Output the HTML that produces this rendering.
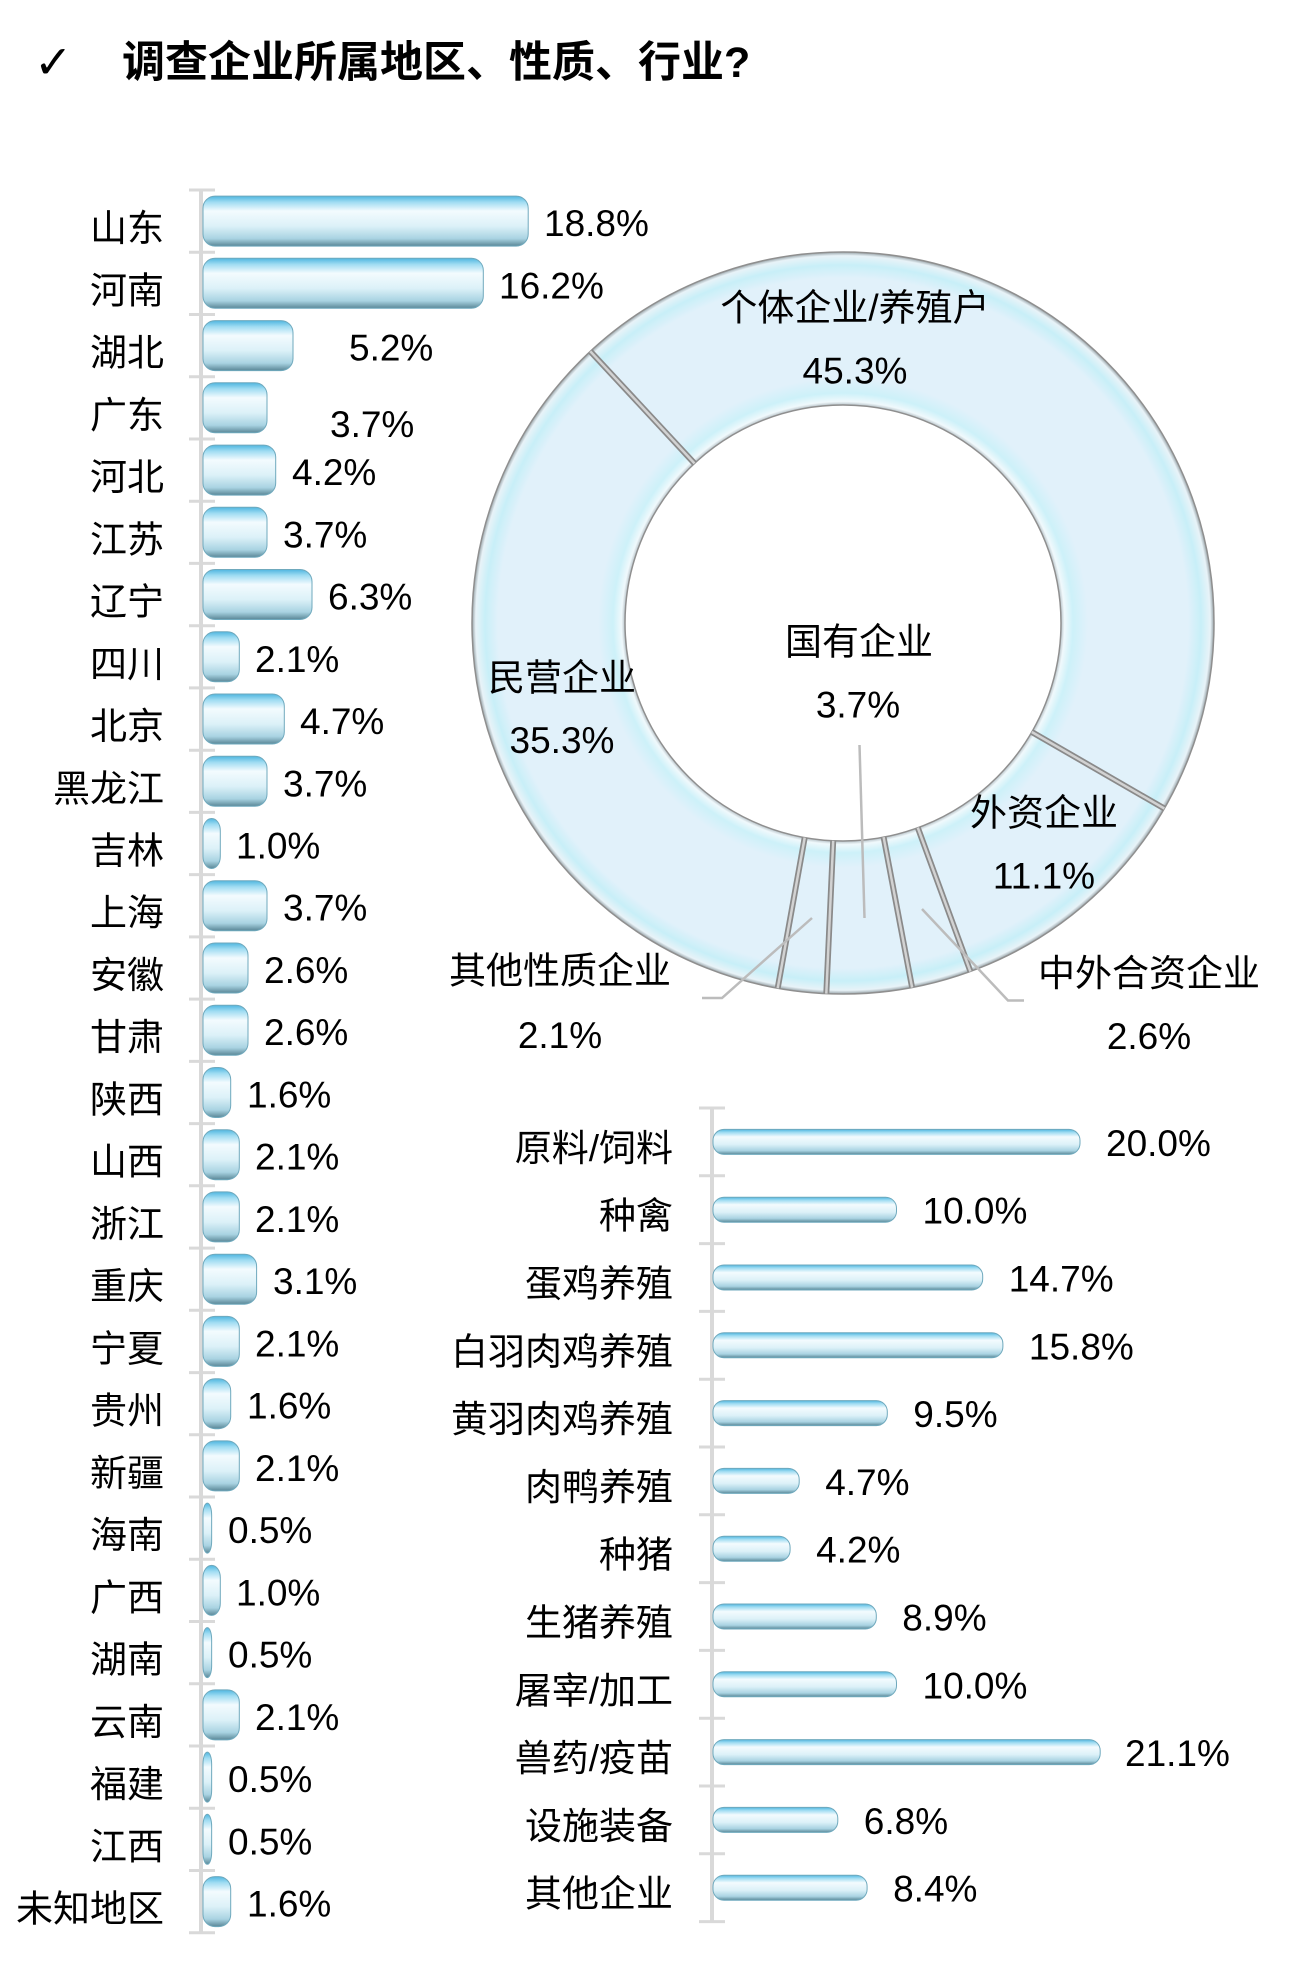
<!DOCTYPE html>
<html><head><meta charset="utf-8"><style>
html,body{margin:0;padding:0;background:#fff;}
svg{display:block;}
text{font-family:"Liberation Sans","Noto Sans CJK SC",sans-serif;fill:#000;}
</style></head><body>
<svg xmlns="http://www.w3.org/2000/svg" width="1304" height="1975" viewBox="0 0 1304 1975">
<defs>
<linearGradient id="bg" x1="0" y1="0" x2="0" y2="1">
<stop offset="0" stop-color="#4fb6e0"/>
<stop offset="0.12" stop-color="#9fdcf2"/>
<stop offset="0.3" stop-color="#f3fbfe"/>
<stop offset="0.6" stop-color="#dcf1f8"/>
<stop offset="0.85" stop-color="#a9d3e2"/>
<stop offset="1" stop-color="#5a8797"/>
</linearGradient>
<radialGradient id="ring" gradientUnits="userSpaceOnUse" cx="843" cy="623" r="371">
<stop offset="0.587" stop-color="#b3bec4"/>
<stop offset="0.597" stop-color="#f0f9fc"/>
<stop offset="0.62" stop-color="#cdf1f9"/>
<stop offset="0.66" stop-color="#e1f1fa"/>
<stop offset="0.93" stop-color="#e1f1fa"/>
<stop offset="0.965" stop-color="#c8eff8"/>
<stop offset="0.99" stop-color="#e8f3f8"/>
<stop offset="1" stop-color="#98a3a8"/>
</radialGradient>
</defs>

<!-- Title -->
<text x="34" y="78" font-size="46" style="font-family:'DejaVu Sans',sans-serif">✓</text>
<text x="122" y="77" font-size="43" font-weight="bold">调查企业所属地区、性质、行业?</text>

<!-- LEFT BAR CHART -->
<g stroke="#d9d9d9" stroke-width="3">
<line x1="201" y1="190" x2="201" y2="1933" stroke-width="4"/>
<line x1="189" y1="190" x2="215" y2="190"/>
<line x1="189" y1="252.2" x2="215" y2="252.2"/>
<line x1="189" y1="314.5" x2="215" y2="314.5"/>
<line x1="189" y1="376.7" x2="215" y2="376.7"/>
<line x1="189" y1="439" x2="215" y2="439"/>
<line x1="189" y1="501.2" x2="215" y2="501.2"/>
<line x1="189" y1="563.4" x2="215" y2="563.4"/>
<line x1="189" y1="625.7" x2="215" y2="625.7"/>
<line x1="189" y1="687.9" x2="215" y2="687.9"/>
<line x1="189" y1="750.2" x2="215" y2="750.2"/>
<line x1="189" y1="812.4" x2="215" y2="812.4"/>
<line x1="189" y1="874.6" x2="215" y2="874.6"/>
<line x1="189" y1="936.9" x2="215" y2="936.9"/>
<line x1="189" y1="999.1" x2="215" y2="999.1"/>
<line x1="189" y1="1061.4" x2="215" y2="1061.4"/>
<line x1="189" y1="1123.6" x2="215" y2="1123.6"/>
<line x1="189" y1="1185.8" x2="215" y2="1185.8"/>
<line x1="189" y1="1248.1" x2="215" y2="1248.1"/>
<line x1="189" y1="1310.3" x2="215" y2="1310.3"/>
<line x1="189" y1="1372.6" x2="215" y2="1372.6"/>
<line x1="189" y1="1434.8" x2="215" y2="1434.8"/>
<line x1="189" y1="1497" x2="215" y2="1497"/>
<line x1="189" y1="1559.3" x2="215" y2="1559.3"/>
<line x1="189" y1="1621.5" x2="215" y2="1621.5"/>
<line x1="189" y1="1683.8" x2="215" y2="1683.8"/>
<line x1="189" y1="1746" x2="215" y2="1746"/>
<line x1="189" y1="1808.2" x2="215" y2="1808.2"/>
<line x1="189" y1="1870.5" x2="215" y2="1870.5"/>
<line x1="189" y1="1932.7" x2="215" y2="1932.7"/>
</g>

<g fill="url(#bg)" stroke="#6fa9bd" stroke-width="1">
<rect x="203" y="196.1" width="325.2" height="50" rx="12" ry="12"/>
<rect x="203" y="258.3" width="280.3" height="50" rx="12" ry="12"/>
<rect x="203" y="320.6" width="90" height="50" rx="12" ry="12"/>
<rect x="203" y="382.8" width="64" height="50" rx="12" ry="12"/>
<rect x="203" y="445.1" width="72.7" height="50" rx="12" ry="12"/>
<rect x="203" y="507.3" width="64" height="50" rx="12" ry="12"/>
<rect x="203" y="569.5" width="109" height="50" rx="12" ry="12"/>
<rect x="203" y="631.8" width="36.3" height="50" rx="12" ry="12"/>
<rect x="203" y="694" width="81.3" height="50" rx="12" ry="12"/>
<rect x="203" y="756.3" width="64" height="50" rx="12" ry="12"/>
<rect x="203" y="818.5" width="17.3" height="50" rx="8.6" ry="12"/>
<rect x="203" y="880.7" width="64" height="50" rx="12" ry="12"/>
<rect x="203" y="943" width="45" height="50" rx="12" ry="12"/>
<rect x="203" y="1005.2" width="45" height="50" rx="12" ry="12"/>
<rect x="203" y="1067.5" width="27.7" height="50" rx="12" ry="12"/>
<rect x="203" y="1129.7" width="36.3" height="50" rx="12" ry="12"/>
<rect x="203" y="1191.9" width="36.3" height="50" rx="12" ry="12"/>
<rect x="203" y="1254.2" width="53.6" height="50" rx="12" ry="12"/>
<rect x="203" y="1316.4" width="36.3" height="50" rx="12" ry="12"/>
<rect x="203" y="1378.7" width="27.7" height="50" rx="12" ry="12"/>
<rect x="203" y="1440.9" width="36.3" height="50" rx="12" ry="12"/>
<rect x="203" y="1503.1" width="8.65" height="50" rx="4.3" ry="12"/>
<rect x="203" y="1565.4" width="17.3" height="50" rx="8.6" ry="12"/>
<rect x="203" y="1627.6" width="8.65" height="50" rx="4.3" ry="12"/>
<rect x="203" y="1689.9" width="36.3" height="50" rx="12" ry="12"/>
<rect x="203" y="1752.1" width="8.65" height="50" rx="4.3" ry="12"/>
<rect x="203" y="1814.3" width="8.65" height="50" rx="4.3" ry="12"/>
<rect x="203" y="1876.6" width="27.7" height="50" rx="12" ry="12"/>
</g>

<g font-size="37" text-anchor="end">
<text x="164" y="241.1">山东</text>
<text x="164" y="303.3">河南</text>
<text x="164" y="365.6">湖北</text>
<text x="164" y="427.8">广东</text>
<text x="164" y="490.1">河北</text>
<text x="164" y="552.3">江苏</text>
<text x="164" y="614.5">辽宁</text>
<text x="164" y="676.8">四川</text>
<text x="164" y="739">北京</text>
<text x="164" y="801.3">黑龙江</text>
<text x="164" y="863.5">吉林</text>
<text x="164" y="925.7">上海</text>
<text x="164" y="988">安徽</text>
<text x="164" y="1050.2">甘肃</text>
<text x="164" y="1112.5">陕西</text>
<text x="164" y="1174.7">山西</text>
<text x="164" y="1236.9">浙江</text>
<text x="164" y="1299.2">重庆</text>
<text x="164" y="1361.4">宁夏</text>
<text x="164" y="1423.7">贵州</text>
<text x="164" y="1485.9">新疆</text>
<text x="164" y="1548.1">海南</text>
<text x="164" y="1610.4">广西</text>
<text x="164" y="1672.6">湖南</text>
<text x="164" y="1734.9">云南</text>
<text x="164" y="1797.1">福建</text>
<text x="164" y="1859.3">江西</text>
<text x="164" y="1921.6">未知地区</text>
</g>

<g font-size="37">
<text x="544" y="236.1">18.8%</text>
<text x="499" y="298.3">16.2%</text>
<text x="349" y="360.6">5.2%</text>
<text x="330" y="436.8">3.7%</text>
<text x="292" y="485.1">4.2%</text>
<text x="283" y="547.3">3.7%</text>
<text x="328" y="609.5">6.3%</text>
<text x="255" y="671.8">2.1%</text>
<text x="300" y="734">4.7%</text>
<text x="283" y="796.3">3.7%</text>
<text x="236" y="858.5">1.0%</text>
<text x="283" y="920.7">3.7%</text>
<text x="264" y="983">2.6%</text>
<text x="264" y="1045.2">2.6%</text>
<text x="247" y="1107.5">1.6%</text>
<text x="255" y="1169.7">2.1%</text>
<text x="255" y="1231.9">2.1%</text>
<text x="273" y="1294.2">3.1%</text>
<text x="255" y="1356.4">2.1%</text>
<text x="247" y="1418.7">1.6%</text>
<text x="255" y="1480.9">2.1%</text>
<text x="228" y="1543.1">0.5%</text>
<text x="236" y="1605.4">1.0%</text>
<text x="228" y="1667.6">0.5%</text>
<text x="255" y="1729.9">2.1%</text>
<text x="228" y="1792.1">0.5%</text>
<text x="228" y="1854.3">0.5%</text>
<text x="247" y="1916.6">1.6%</text>
</g>

<!-- DONUT -->
<path d="M843,252 A371,371 0 1,1 843,994 A371,371 0 1,1 843,252 Z M843,405 A218,218 0 1,0 843,841 A218,218 0 1,0 843,405 Z" fill="url(#ring)" fill-rule="evenodd" stroke="#8f8f8f" stroke-width="1.5"/>
<g stroke="#8a8a8a" stroke-width="6">
<line x1="1164.3" y1="808.5" x2="1031.8" y2="732"/>
<line x1="970.4" y1="971.4" x2="917.8" y2="827.7"/>
<line x1="912.1" y1="987.5" x2="883.6" y2="837.2"/>
<line x1="826.3" y1="993.6" x2="833.2" y2="840.8"/>
<line x1="777.7" y1="988.2" x2="804.7" y2="837.6"/>
<line x1="590.3" y1="351.3" x2="694.5" y2="463.4"/>
</g>
<g stroke="#d2d2d2" stroke-width="2.5">
<line x1="1164.3" y1="808.5" x2="1031.8" y2="732"/>
<line x1="970.4" y1="971.4" x2="917.8" y2="827.7"/>
<line x1="912.1" y1="987.5" x2="883.6" y2="837.2"/>
<line x1="826.3" y1="993.6" x2="833.2" y2="840.8"/>
<line x1="777.7" y1="988.2" x2="804.7" y2="837.6"/>
<line x1="590.3" y1="351.3" x2="694.5" y2="463.4"/>
</g>

<!-- leader lines -->
<g stroke="#bcbcbc" stroke-width="2.5" fill="none">
<polyline points="859.5,745 864.5,918"/>
<polyline points="812,918 722,998 702,998"/>
<polyline points="922,909 1008,1000.5 1024,1000.5"/>
</g>

<g font-size="37" text-anchor="middle">
<text x="855" y="320.5">个体企业/养殖户</text>
<text x="855" y="383.5">45.3%</text>
<text x="562" y="690.4">民营企业</text>
<text x="562" y="753">35.3%</text>
<text x="859" y="654.7">国有企业</text>
<text x="858" y="717.5">3.7%</text>
<text x="1044" y="825.6">外资企业</text>
<text x="1044" y="888.4">11.1%</text>
<text x="560" y="983.5">其他性质企业</text>
<text x="560" y="1048">2.1%</text>
<text x="1149" y="986">中外合资企业</text>
<text x="1149" y="1049">2.6%</text>
</g>

<!-- RIGHT BAR CHART -->
<g stroke="#d9d9d9" stroke-width="3">
<line x1="712" y1="1108" x2="712" y2="1922" stroke-width="4"/>
<line x1="699" y1="1108" x2="725" y2="1108"/>
<line x1="699" y1="1175.8" x2="725" y2="1175.8"/>
<line x1="699" y1="1243.6" x2="725" y2="1243.6"/>
<line x1="699" y1="1311.4" x2="725" y2="1311.4"/>
<line x1="699" y1="1379.2" x2="725" y2="1379.2"/>
<line x1="699" y1="1447" x2="725" y2="1447"/>
<line x1="699" y1="1514.8" x2="725" y2="1514.8"/>
<line x1="699" y1="1582.6" x2="725" y2="1582.6"/>
<line x1="699" y1="1650.4" x2="725" y2="1650.4"/>
<line x1="699" y1="1718.2" x2="725" y2="1718.2"/>
<line x1="699" y1="1786" x2="725" y2="1786"/>
<line x1="699" y1="1853.8" x2="725" y2="1853.8"/>
<line x1="699" y1="1921.6" x2="725" y2="1921.6"/>
</g>

<g fill="url(#bg)" stroke="#6fa9bd" stroke-width="1">
<rect x="713" y="1129.4" width="367" height="25" rx="11" ry="11"/>
<rect x="713" y="1197.2" width="183.5" height="25" rx="11" ry="11"/>
<rect x="713" y="1265" width="269.7" height="25" rx="11" ry="11"/>
<rect x="713" y="1332.8" width="289.9" height="25" rx="11" ry="11"/>
<rect x="713" y="1400.6" width="174.3" height="25" rx="11" ry="11"/>
<rect x="713" y="1468.4" width="86.2" height="25" rx="11" ry="11"/>
<rect x="713" y="1536.2" width="77.1" height="25" rx="11" ry="11"/>
<rect x="713" y="1604" width="163.3" height="25" rx="11" ry="11"/>
<rect x="713" y="1671.8" width="183.5" height="25" rx="11" ry="11"/>
<rect x="713" y="1739.6" width="387.2" height="25" rx="11" ry="11"/>
<rect x="713" y="1807.4" width="124.8" height="25" rx="11" ry="11"/>
<rect x="713" y="1875.2" width="154.1" height="25" rx="11" ry="11"/>
</g>

<g font-size="37" text-anchor="end">
<text x="673" y="1160.9">原料/饲料</text>
<text x="673" y="1228.7">种禽</text>
<text x="673" y="1296.5">蛋鸡养殖</text>
<text x="673" y="1364.3">白羽肉鸡养殖</text>
<text x="673" y="1432.1">黄羽肉鸡养殖</text>
<text x="673" y="1499.9">肉鸭养殖</text>
<text x="673" y="1567.7">种猪</text>
<text x="673" y="1635.5">生猪养殖</text>
<text x="673" y="1703.3">屠宰/加工</text>
<text x="673" y="1771.1">兽药/疫苗</text>
<text x="673" y="1838.9">设施装备</text>
<text x="673" y="1906.7">其他企业</text>
</g>

<g font-size="37">
<text x="1106" y="1155.9">20.0%</text>
<text x="922.5" y="1223.7">10.0%</text>
<text x="1008.7" y="1291.5">14.7%</text>
<text x="1028.9" y="1359.3">15.8%</text>
<text x="913.3" y="1427.1">9.5%</text>
<text x="825.2" y="1494.9">4.7%</text>
<text x="816.1" y="1562.7">4.2%</text>
<text x="902.3" y="1630.5">8.9%</text>
<text x="922.5" y="1698.3">10.0%</text>
<text x="1125" y="1766.1">21.1%</text>
<text x="863.8" y="1833.9">6.8%</text>
<text x="893.1" y="1901.7">8.4%</text>
</g>
</svg>
</body></html>
